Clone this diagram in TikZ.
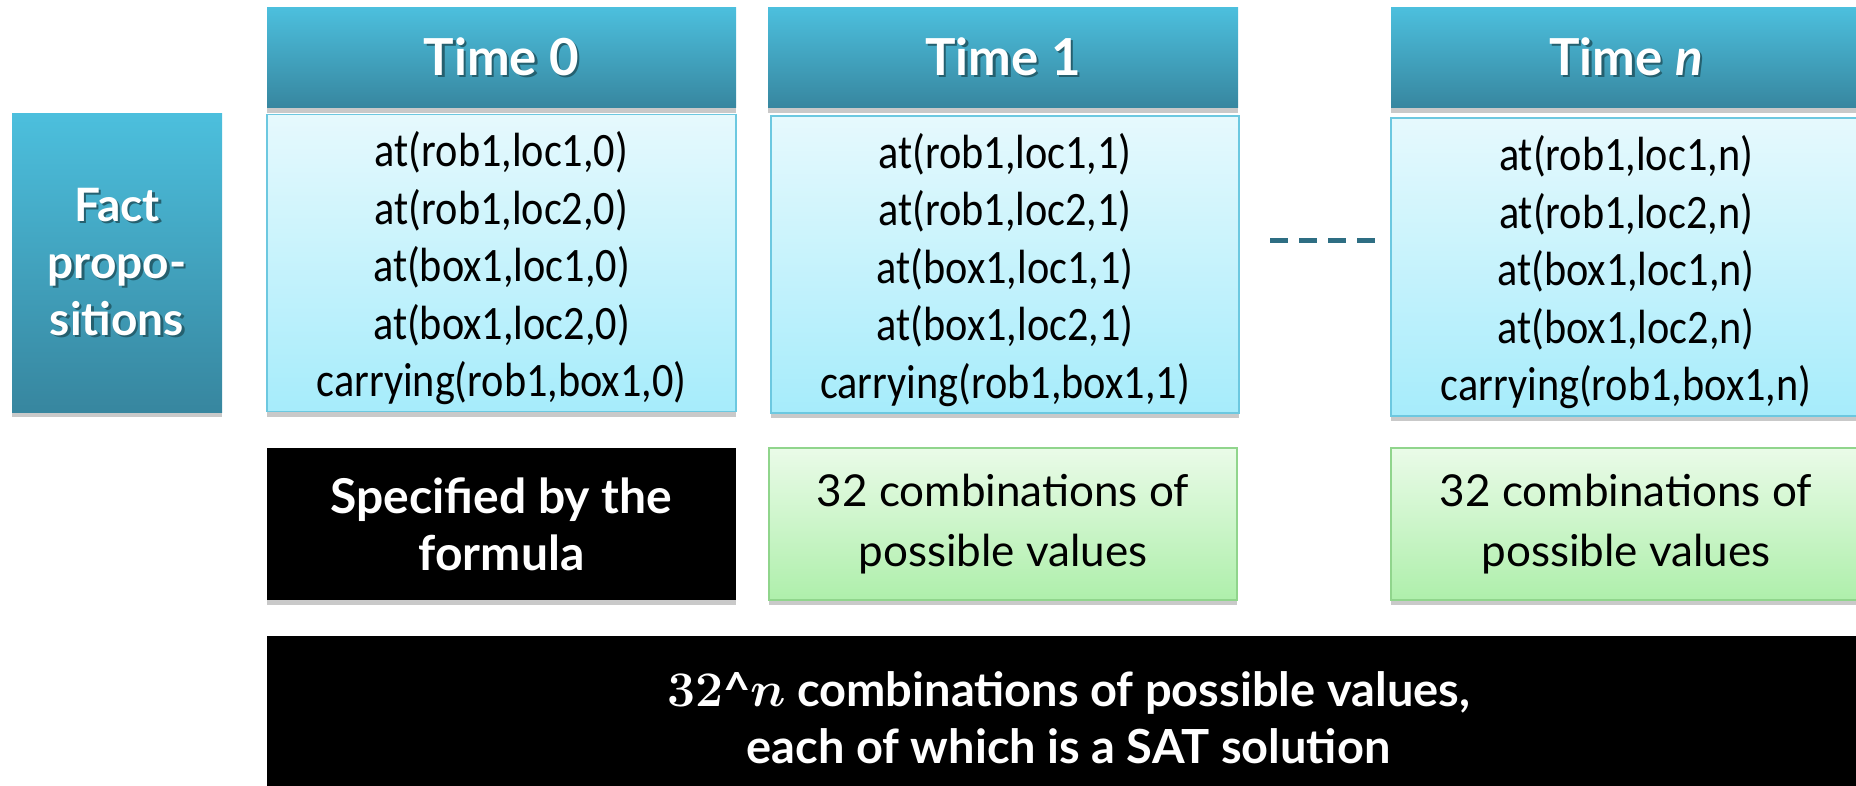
\documentclass[tikz,border=0pt]{standalone}
\usepackage{fontspec}
\setmainfont{Lato}
\newfontfamily\propfont[FakeStretch=0.88]{Carlito}
\usetikzlibrary{shadows}

\definecolor{hdtop}{HTML}{4CBFDD}
\definecolor{hdbot}{HTML}{37869F}
\definecolor{bdtop}{HTML}{E6F9FD}
\definecolor{bdbot}{HTML}{A6ECFB}
\definecolor{bdline}{HTML}{6CC8E0}
\definecolor{grtop}{HTML}{EAFBE8}
\definecolor{grbot}{HTML}{AEEFAB}
\definecolor{grline}{HTML}{90D58C}
\definecolor{dashcol}{HTML}{2E6E83}
\definecolor{txtshade}{HTML}{25606F}

% white label text with a faint offset shade behind it
\newcommand\shadedtext[1]{\makebox[0pt][l]{\hspace{1.2pt}\raisebox{-1.2pt}{\color{txtshade}#1}}#1}
% taller first line so the proposition list sits a little lower in its box
\newcommand\toppad{\rule{0pt}{23pt}}

\tikzset{
  softshadow/.style={drop shadow={shadow xshift=0pt, shadow yshift=-2.5pt, opacity=0.3, fill=black!70}},
  header/.style={softshadow, top color=hdtop, bottom color=hdbot, text=white,
    font=\fontsize{25.5}{28}\selectfont\bfseries, align=center, inner sep=0pt},
  factbox/.style={softshadow, top color=hdtop, bottom color=hdbot, text=white,
    font=\fontsize{23}{28.5}\selectfont\bfseries, align=center, inner sep=0pt,
    minimum width=105pt, minimum height=149pt},
  propbox/.style={softshadow, top color=bdtop, bottom color=bdbot, draw=bdline, line width=0.6pt,
    font=\propfont\fontsize{24}{28.75}\selectfont, align=center, inner sep=0pt,
    minimum height=148.5pt},
  greenbox/.style={softshadow, top color=grtop, bottom color=grbot, draw=grline, line width=0.6pt,
    font=\fontsize{22}{30}\selectfont, align=center, inner sep=0pt,
    minimum height=76pt},
  blackbox/.style={softshadow, fill=black, text=white, align=center, inner sep=0pt},
  dotsline/.style={dashcol, line width=2.5pt, dash pattern=on 9pt off 5.5pt}
}

\begin{document}
\begin{tikzpicture}[x=0.5pt, y=-0.5pt]
\useasboundingbox (0,0) rectangle (1856,786);

% row label
\node[factbox] (fact) at (117,263)
  {\shadedtext{Fact}\\\shadedtext{propo-}\\\shadedtext{sitions}};

% time headers
\node[header, minimum width=234.5pt, minimum height=50pt] (h0) at (501.5,58) {\shadedtext{Time 0}};
\node[header, minimum width=235pt, minimum height=50pt] (h1) at (1003,58) {\shadedtext{Time 1}};
\node[header, minimum width=235pt, minimum height=50pt] (hn) at (1626,58) {\shadedtext{Time \textit{n}}};

% fact propositions per time step
\node[propbox, minimum width=234.5pt] (p0) at (501.5,263)
  {\toppad at(rob1,loc1,0)\\at(rob1,loc2,0)\\at(box1,loc1,0)\\at(box1,loc2,0)\\carrying(rob1,box1,0)};
\node[propbox, minimum width=234pt] (p1) at (1005,264.5)
  {\toppad at(rob1,loc1,1)\\at(rob1,loc2,1)\\at(box1,loc1,1)\\at(box1,loc2,1)\\carrying(rob1,box1,1)};
\node[propbox, minimum width=235pt, minimum height=149pt] (pn) at (1626,267)
  {\toppad at(rob1,loc1,n)\\at(rob1,loc2,n)\\at(box1,loc1,n)\\at(box1,loc2,n)\\carrying(rob1,box1,n)};

% gap between time 1 and time n
\coordinate (da) at (1270,241);
\coordinate (db) at (1375,241);
\draw[dotsline] (da) -- (db);

% value counts
\node[blackbox, font=\fontsize{24}{28.5}\selectfont\bfseries,
      minimum width=234.5pt, minimum height=76pt] (s0) at (501.5,524)
  {Specified by the\\formula};
\node[greenbox, minimum width=234pt] (g1) at (1003,524)
  {32 combinations of\\possible values};
\node[greenbox, minimum width=235pt] (gn) at (1626,524)
  {32 combinations of\\possible values};

% overall count
\node[blackbox, font=\fontsize{23.5}{28.5}\selectfont\bfseries,
      minimum width=801.5pt, minimum height=82pt] (all) at (1068.5,718)
  {{\boldmath$32$}\textasciicircum{\boldmath$n$} combinations of possible values,\\each of which is a SAT solution};
\end{tikzpicture}
\end{document}
